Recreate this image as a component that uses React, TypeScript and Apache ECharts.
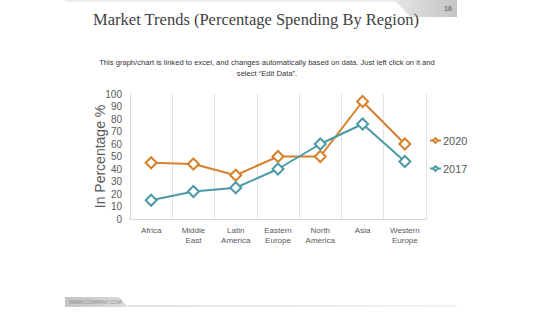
import React, { useEffect, useRef } from "react";
import * as echarts from "echarts";

const categories = ["Africa", "Middle\nEast", "Latin\nAmerica", "Eastern\nEurope", "North\nAmerica", "Asia", "Western\nEurope"];
const series2020 = [45, 44, 35, 50, 50, 94, 60];
const series2017 = [15, 22, 25, 40, 60, 76, 46];
const seriesNames = ["2020", "2017"];

const ORANGE = "#D6812A";
const TEAL = "#4B9AA7";
const GRAY = "#595959";

export default function App() {
  const ref = useRef<HTMLDivElement>(null);
  useEffect(() => {
    const chart = echarts.init(ref.current!, undefined, { renderer: "svg" });
    const mk = (name: string, data: number[], color: string) => ({
      name,
      type: "line",
      data,
      symbol: "diamond",
      symbolSize: 11,
      lineStyle: { color, width: 2 },
      itemStyle: { color: "#ffffff", borderColor: color, borderWidth: 2 },
      emphasis: { disabled: true },
    });
    chart.setOption({
      animation: false,
      backgroundColor: "#ffffff",
      title: [
        {
          text: "Market Trends (Percentage Spending By Region)",
          left: 251,
          top: 6,
          textAlign: "center",
          textStyle: { fontFamily: "Liberation Serif", fontWeight: "normal", fontSize: 16.5, color: "#3f3f3f" },
        },
        {
          text: "This graph/chart is linked to excel, and changes automatically based on data. Just left click on it and\nselect \u201cEdit Data\u201d.",
          left: 262,
          top: 52,
          textAlign: "center",
          textStyle: { fontFamily: "Liberation Sans", fontWeight: "normal", fontSize: 7.6, lineHeight: 11, color: "#333333", align: "center" },
        },
      ],
      legend: {
        orient: "vertical",
        left: 424,
        top: 130,
        itemGap: 17,
        itemWidth: 11,
        itemHeight: 6,
        data: seriesNames,
        textStyle: { fontFamily: "Liberation Sans", fontSize: 11, color: GRAY, padding: [0, 0, 0, -3] },
      },
      grid: { left: 130, right: 134, top: 94, bottom: 96 },
      xAxis: {
        type: "category",
        data: categories,
        boundaryGap: true,
        axisLine: { lineStyle: { color: "#d9d9d9" } },
        axisTick: { show: false },
        splitLine: { show: true, lineStyle: { color: "#e3e3e3" } },
        axisLabel: { fontFamily: "Liberation Sans", fontSize: 8, lineHeight: 10, color: GRAY, margin: 6, interval: 0 },
      },
      yAxis: {
        type: "value",
        min: 0,
        max: 100,
        interval: 10,
        name: "In Percentage %",
        nameLocation: "middle",
        nameGap: 23,
        nameMoveOverlap: false,
        nameRotate: 90,
        nameTextStyle: { fontFamily: "Liberation Sans", fontSize: 14, color: GRAY },
        axisLine: { show: true, lineStyle: { color: "#d9d9d9" } },
        axisTick: { show: false },
        splitLine: { show: false },
        axisLabel: { fontFamily: "Liberation Sans", fontSize: 10, color: GRAY, margin: 8 },
      },
      series: [mk(seriesNames[0], series2020, ORANGE), mk(seriesNames[1], series2017, TEAL)],
      graphic: [
        { type: "rect", shape: { x: 65, y: 0, width: 335, height: 2 }, style: { fill: "#ececec" }, silent: true },
        {
          type: "polygon",
          shape: { points: [[394, 0], [457, 0], [457, 17], [411, 17]] },
          style: {
            fill: new echarts.graphic.LinearGradient(0, 0, 1, 0, [
              { offset: 0, color: "#e6e6e6" },
              { offset: 1, color: "#c4c4c4" },
            ]),
          },
          silent: true,
        },
        { type: "text", x: 448, y: 8, style: { text: "16", fontSize: 7, fontWeight: "bold", fill: "#777777", fontFamily: "Liberation Sans", align: "center", verticalAlign: "middle" }, silent: true },
        {
          type: "polygon",
          shape: { points: [[65, 297], [119, 297], [128, 307], [65, 307]] },
          style: {
            fill: new echarts.graphic.LinearGradient(0, 0, 1, 0, [
              { offset: 0, color: "#c4c4c4" },
              { offset: 1, color: "#dcdcdc" },
            ]),
          },
          silent: true,
        },
        { type: "text", x: 69, y: 302, style: { text: "WWW.COMPANY.COM", fontSize: 5, fill: "#8a8a8a", fontFamily: "Liberation Sans", verticalAlign: "middle" }, silent: true },
        {
          type: "rect",
          shape: { x: 128, y: 305, width: 329, height: 2 },
          style: {
            fill: new echarts.graphic.LinearGradient(0, 0, 1, 0, [
              { offset: 0, color: "#e2e2e2" },
              { offset: 1, color: "#f4f4f4" },
            ]),
          },
          silent: true,
        },
      ],
    });
    return () => chart.dispose();
  }, []);
  return <div ref={ref} style={{ position: "fixed", left: 0, top: 0, width: 560, height: 315 }} />;
}
